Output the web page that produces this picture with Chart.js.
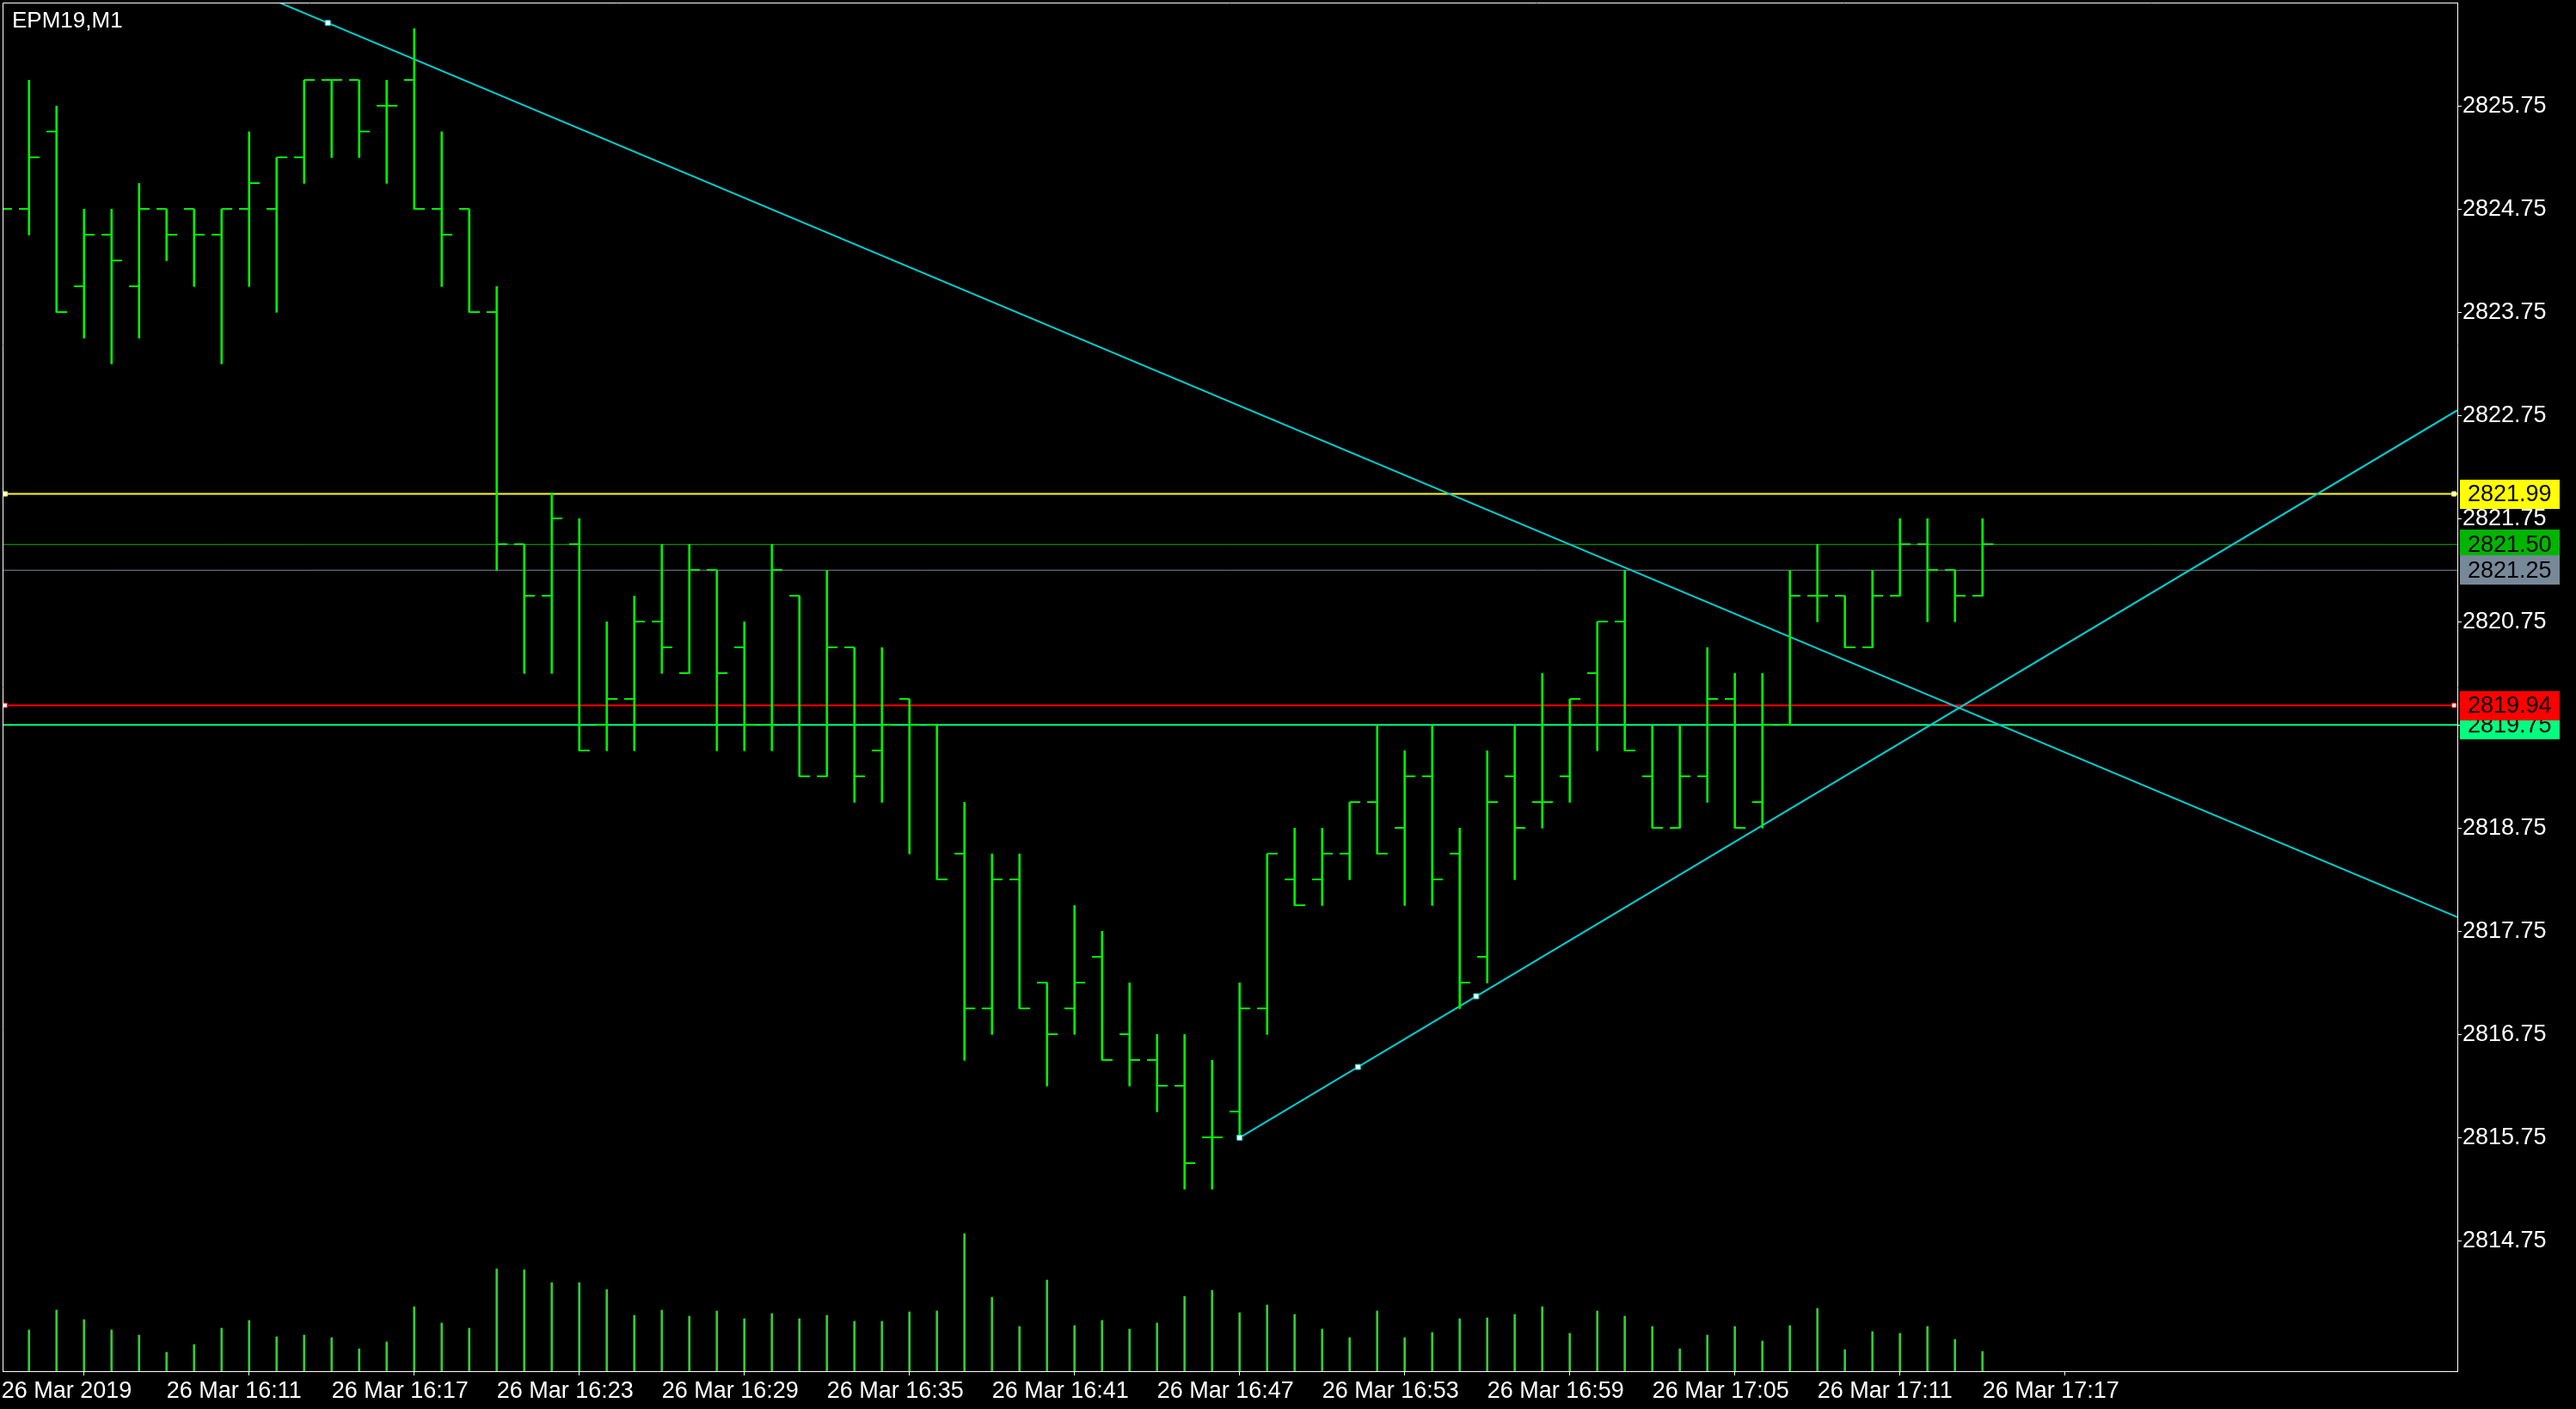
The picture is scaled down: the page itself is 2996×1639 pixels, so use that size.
<!DOCTYPE html>
<html>
<head>
<meta charset="utf-8">
<title>EPM19,M1</title>
<script src="https://cdn.jsdelivr.net/npm/chart.js@4.4.1/dist/chart.umd.min.js"></script>
<style>
  html, body { margin: 0; padding: 0; background: #000; overflow: hidden; }
  #wrap { position: relative; width: 2996px; height: 1639px; }
</style>
</head>
<body>
<div id="wrap"><canvas id="chart"></canvas></div>
<script>
// ============================================================
// EPM19 M1 bars, 26 Mar 2019 — bar index 0 = 16:05, one bar per minute
// ============================================================
const OPEN = [
  2824.75, 2824.75, 2825.50, 2824.00, 2824.50, 2824.00, 2824.75, 2824.75, 2824.50, 2824.75,
  2824.75, 2825.25, 2826.00, 2826.00, 2825.75, 2826.00, 2824.75, 2824.75, 2823.75, 2821.50,
  2821.00, 2821.50, 2819.75, 2820.00, 2820.75, 2820.25, 2821.25, 2820.50, 2819.75, 2821.00,
  2819.25, 2820.50, 2819.50, 2820.00, 2819.75, 2818.50, 2817.00, 2818.25, 2817.25, 2817.00,
  2817.50, 2816.75, 2816.50, 2816.25, 2815.75, 2816.00, 2817.00, 2818.25, 2818.25, 2818.50,
  2819.00, 2818.75, 2819.25, 2818.50, 2817.50, 2819.25, 2819.00, 2819.25, 2820.25, 2820.75,
  2819.25, 2818.75, 2819.25, 2820.00, 2819.00, 2819.75, 2821.00, 2821.00, 2820.50, 2821.00,
  2821.50, 2821.25, 2821.00
];
const HIGH = [
  2825.00, 2826.00, 2825.75, 2824.75, 2824.75, 2825.00, 2824.75, 2824.75, 2824.75, 2825.50,
  2825.25, 2826.00, 2826.00, 2826.00, 2826.00, 2826.50, 2825.50, 2824.75, 2824.00, 2821.50,
  2822.00, 2821.75, 2820.75, 2821.00, 2821.50, 2821.50, 2821.25, 2820.75, 2821.50, 2821.00,
  2821.25, 2820.50, 2820.50, 2820.00, 2819.75, 2819.00, 2818.50, 2818.50, 2817.25, 2818.00,
  2817.75, 2817.25, 2816.75, 2816.75, 2816.50, 2817.25, 2818.50, 2818.75, 2818.75, 2819.00,
  2819.75, 2819.50, 2819.75, 2818.75, 2819.50, 2819.75, 2820.25, 2820.00, 2820.75, 2821.25,
  2819.75, 2819.75, 2820.50, 2820.25, 2820.25, 2821.25, 2821.50, 2821.00, 2821.25, 2821.75,
  2821.75, 2821.25, 2821.75
];
const LOW = [
  2824.50, 2824.50, 2823.75, 2823.50, 2823.25, 2823.50, 2824.25, 2824.00, 2823.25, 2824.00,
  2823.75, 2825.00, 2825.25, 2825.25, 2825.00, 2824.75, 2824.00, 2823.75, 2821.25, 2820.25,
  2820.25, 2819.50, 2819.50, 2819.50, 2820.25, 2820.25, 2819.50, 2819.50, 2819.50, 2819.25,
  2819.25, 2819.00, 2819.00, 2818.50, 2818.25, 2816.50, 2816.75, 2817.00, 2816.25, 2816.75,
  2816.50, 2816.25, 2816.00, 2815.25, 2815.25, 2815.75, 2816.75, 2818.00, 2818.00, 2818.25,
  2818.50, 2818.00, 2818.00, 2817.00, 2817.25, 2818.25, 2818.75, 2819.00, 2819.50, 2819.50,
  2818.75, 2818.75, 2819.00, 2818.75, 2818.75, 2819.75, 2820.75, 2820.50, 2820.50, 2821.00,
  2820.75, 2820.75, 2821.00
];
const CLOSE = [
  2824.75, 2825.25, 2823.75, 2824.50, 2824.25, 2824.75, 2824.50, 2824.50, 2824.75, 2825.00,
  2825.25, 2826.00, 2826.00, 2825.50, 2825.75, 2824.75, 2824.50, 2823.75, 2821.50, 2821.00,
  2821.75, 2819.50, 2820.00, 2820.75, 2820.50, 2821.25, 2820.25, 2819.75, 2821.25, 2819.25,
  2820.50, 2819.25, 2819.75, 2819.75, 2818.25, 2817.00, 2818.25, 2817.00, 2816.75, 2817.25,
  2816.50, 2816.50, 2816.25, 2815.50, 2815.75, 2817.00, 2818.50, 2818.00, 2818.50, 2819.00,
  2818.50, 2819.25, 2818.25, 2817.25, 2819.00, 2818.75, 2819.00, 2820.00, 2820.75, 2819.50,
  2818.75, 2819.25, 2820.00, 2818.75, 2819.75, 2821.00, 2821.00, 2820.50, 2821.00, 2821.50,
  2821.25, 2821.00, 2821.50
];
// tick volumes (read as relative heights)
const VOLUME = [
   45,  48,  71,  60,  48,  42,  22,  31,  50,  59,
   40,  42,  39,  26,  34,  75,  56,  50, 119, 118,
  103, 103,  95,  65,  71,  64,  70,  61,  67,  61,
   65,  58,  58,  69,  70, 160,  86,  52, 106,  53,
   59,  49,  56,  87,  94,  68,  77,  66,  49,  39,
   70,  39,  45,  61,  62,  66,  75,  44,  70,  64,
   52,  26,  42,  52,  35,  53,  73,  25,  46,  44,
   52,  37,  23
];

const PRICE_TICKS = [2814.75, 2815.75, 2816.75, 2817.75, 2818.75, 2819.75,
                     2820.75, 2821.75, 2822.75, 2823.75, 2824.75, 2825.75];
const TIME_TICK_BARS = [0, 6, 12, 18, 24, 30, 36, 42, 48, 54, 60, 66, 72];
const TIME_LABELS = ['26 Mar 2019', '26 Mar 16:11', '26 Mar 16:17', '26 Mar 16:23',
  '26 Mar 16:29', '26 Mar 16:35', '26 Mar 16:41', '26 Mar 16:47', '26 Mar 16:53',
  '26 Mar 16:59', '26 Mar 17:05', '26 Mar 17:11', '26 Mar 17:17'];

// horizontal levels: yellow line, ask, bid, green line, red line
const LEVEL_PRICES = [2821.99, 2821.50, 2821.25, 2819.75, 2819.94];
// trend lines, [bar, price] pairs
const TREND_DOWN = [[11.86, 2826.555], [65.57, 2820.54]];
const TREND_UP = [[45, 2815.75], [53.6, 2817.12]];

// visible window
const X_MIN = 0.04, X_MAX = 89.26;
const Y_MIN = 2813.486, Y_MAX = 2826.7525;
const VOL_MAX = 1592;

// ============================================================
// Style
// ============================================================
const STYLE = {
  bar: '#00f000',
  volume: '#32cd32',
  trend: '#00ced1',
  text: '#ffffff',
  font: "'Liberation Sans', Arial, sans-serif",
  fontSize: 27,
  barWidth: 2,
  tickLen: 12,
  levels: [
    { color: '#ffff00', width: 2, marks: true },
    { color: '#00b400', width: 1, marks: false },
    { color: '#778899', width: 1, marks: false },
    { color: '#00ff7f', width: 2, marks: false },
    { color: '#ff0000', width: 2, marks: true }
  ]
};

Chart.defaults.font.family = STYLE.font;
Chart.defaults.font.size = STYLE.fontSize;
Chart.defaults.color = STYLE.text;

// open tick on the left, close tick on the right
function tickImage(side) {
  var c = document.createElement('canvas');
  c.width = STYLE.tickLen * 2;
  c.height = STYLE.barWidth;
  var g = c.getContext('2d');
  g.fillStyle = STYLE.bar;
  g.fillRect(side === 'left' ? 0 : STYLE.tickLen, 0, STYLE.tickLen, STYLE.barWidth);
  return c;
}

function lineAt(pts, x) {
  var k = (pts[1][1] - pts[0][1]) / (pts[1][0] - pts[0][0]);
  return { x: x, y: pts[0][1] + k * (x - pts[0][0]) };
}

// no label padding around the plot: the axes sit on the frame like MT4
function noPad(s) {
  s.paddingTop = 0; s.paddingBottom = 0; s.paddingLeft = 0; s.paddingRight = 0;
}

var bars = OPEN.map(function(o, i) { return i; });

var datasets = [];

// horizontal levels
LEVEL_PRICES.forEach(function(p, k) {
  var st = STYLE.levels[k];
  datasets.push({
    type: 'line', order: 10, clip: 0,
    data: [{ x: X_MIN, y: p }, { x: X_MAX, y: p }],
    borderColor: st.color, borderWidth: st.width, pointRadius: 0
  });
  if (st.marks) {
    datasets.push({
      type: 'line', order: 0, showLine: false,
      data: [{ x: X_MIN + 0.09, y: p }, { x: X_MAX - 0.12, y: p }],
      pointStyle: 'rect', pointRadius: 3.6,
      pointBackgroundColor: '#ffffff', pointBorderColor: st.color, pointBorderWidth: 1
    });
  }
});

// volumes
datasets.push({
  type: 'bar', order: 9, yAxisID: 'yv', grouped: false,
  data: bars.map(function(i) { return { x: i, y: VOLUME[i] }; }),
  backgroundColor: STYLE.volume, barThickness: 2, borderWidth: 0
});

// trend lines
datasets.push({
  type: 'line', order: 8, clip: 0,
  data: [lineAt(TREND_DOWN, X_MIN), lineAt(TREND_DOWN, X_MAX)],
  borderColor: STYLE.trend, borderWidth: 2, pointRadius: 0
});
datasets.push({
  type: 'line', order: 8, clip: 0,
  data: [lineAt(TREND_UP, TREND_UP[0][0]), lineAt(TREND_UP, X_MAX)],
  borderColor: STYLE.trend, borderWidth: 2, pointRadius: 0
});
var midX = (TREND_UP[0][0] + TREND_UP[1][0]) / 2;
datasets.push({
  type: 'line', order: 0, showLine: false,
  data: [lineAt(TREND_DOWN, TREND_DOWN[0][0]),
         lineAt(TREND_UP, TREND_UP[0][0]), lineAt(TREND_UP, midX), lineAt(TREND_UP, TREND_UP[1][0])],
  pointStyle: 'rect', pointRadius: 4.2,
  pointBackgroundColor: '#ffffff', pointBorderColor: STYLE.trend, pointBorderWidth: 1
});

// OHLC bars: high-low stem + open / close ticks
datasets.push({
  type: 'bar', order: 3, grouped: false,
  data: bars.map(function(i) { return { x: i, y: [LOW[i], HIGH[i]] }; }),
  backgroundColor: STYLE.bar, barThickness: STYLE.barWidth, borderWidth: 0
});
datasets.push({
  type: 'line', order: 2, showLine: false,
  data: bars.map(function(i) { return { x: i, y: OPEN[i] }; }),
  pointStyle: tickImage('left'), pointRadius: 6
});
datasets.push({
  type: 'line', order: 1, showLine: false,
  data: bars.map(function(i) { return { x: i, y: CLOSE[i] }; }),
  pointStyle: tickImage('right'), pointRadius: 6
});

// price tags on the right axis, drawn under the axis labels
var priceTags = {
  id: 'priceTags',
  afterDatasetsDraw: function(chart) {
    var ctx = chart.ctx, y = chart.scales.y, left = chart.chartArea.right + 3;
    ctx.save();
    ctx.font = STYLE.fontSize + 'px ' + STYLE.font;
    ctx.textBaseline = 'middle';
    ctx.textAlign = 'left';
    LEVEL_PRICES.forEach(function(p, k) {
      var py = y.getPixelForValue(p);
      ctx.fillStyle = STYLE.levels[k].color;
      ctx.fillRect(left, Math.round(py) - 17, 116, 34);
      ctx.fillStyle = '#000000';
      ctx.fillText(p.toFixed(2), left + 9, py + 1);
    });
    ctx.restore();
  }
};

// frame on the free sides and the symbol caption
var frame = {
  id: 'frame',
  afterDraw: function(chart) {
    var ctx = chart.ctx, a = chart.chartArea;
    ctx.save();
    ctx.strokeStyle = '#ffffff';
    ctx.lineWidth = 1;
    ctx.beginPath();
    ctx.moveTo(a.left + 0.5, a.bottom);
    ctx.lineTo(a.left + 0.5, a.top + 0.5);
    ctx.lineTo(a.right, a.top + 0.5);
    ctx.stroke();
    ctx.fillStyle = STYLE.text;
    ctx.font = '26px ' + STYLE.font;
    ctx.textBaseline = 'top';
    ctx.fillText('EPM19,M1', a.left + 11, a.top + 9);
    ctx.restore();
  }
};

new Chart(document.getElementById('chart'), {
  data: { datasets: datasets },
  options: {
    responsive: true,
    maintainAspectRatio: false,
    animation: false,
    events: [],
    layout: { autoPadding: false, padding: { left: 3, top: 3, right: 0, bottom: 0 } },
    plugins: { legend: { display: false }, tooltip: { enabled: false } },
    scales: {
      x: {
        type: 'linear', min: X_MIN, max: X_MAX, offset: false,
        afterBuildTicks: function(s) { s.ticks = TIME_TICK_BARS.map(function(v) { return { value: v }; }); },
        afterFit: function(s) { s.height = 44; noPad(s); },
        ticks: {
          autoSkip: false, maxRotation: 0, minRotation: 0, align: 'start', padding: 2,
          color: STYLE.text,
          callback: function(v, idx) { return TIME_LABELS[idx]; }
        },
        grid: { drawOnChartArea: false, tickLength: 5, tickColor: '#ffffff', tickWidth: 1 },
        border: { color: '#ffffff', width: 1 }
      },
      y: {
        type: 'linear', position: 'right', min: Y_MIN, max: Y_MAX, z: 1,
        afterBuildTicks: function(s) { s.ticks = PRICE_TICKS.map(function(v) { return { value: v }; }); },
        afterFit: function(s) { s.width = 138; noPad(s); },
        ticks: {
          padding: 1, color: STYLE.text,
          callback: function(v) { return v.toFixed(2); }
        },
        grid: { drawOnChartArea: false, tickLength: 5, tickColor: '#ffffff', tickWidth: 1 },
        border: { color: '#ffffff', width: 1 }
      },
      yv: { type: 'linear', display: false, min: 0, max: VOL_MAX }
    }
  },
  plugins: [priceTags, frame]
});
</script>
</body>
</html>
